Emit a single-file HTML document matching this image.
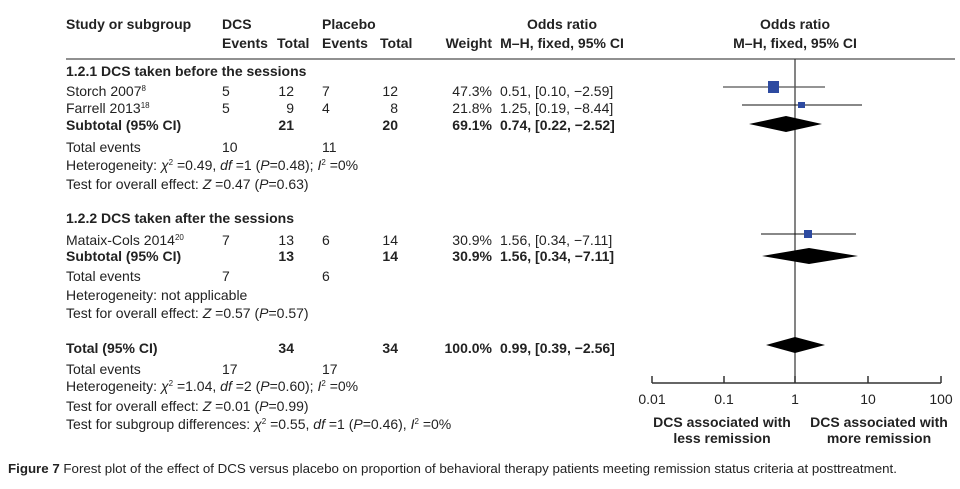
<!DOCTYPE html>
<html><head><meta charset="utf-8"><style>
html,body{margin:0;padding:0;background:#fff;}
svg text{font-family:"Liberation Sans",Arial,sans-serif;font-size:14px;fill:#222;}
.b{font-weight:bold;}
</style></head><body>
<svg width="960" height="484" viewBox="0 0 960 484" xmlns="http://www.w3.org/2000/svg">
<g class="b">
<text x="66" y="29" class="b">Study or subgroup</text>
<text x="222" y="29" class="b">DCS</text>
<text x="322" y="29" class="b">Placebo</text>
<text x="222" y="48" class="b">Events</text>
<text x="277" y="48" class="b">Total</text>
<text x="322" y="48" class="b">Events</text>
<text x="380" y="48" class="b">Total</text>
<text x="492" y="48" text-anchor="end" class="b">Weight</text>
<text x="562" y="29" text-anchor="middle" class="b">Odds ratio</text>
<text x="562" y="48" text-anchor="middle" class="b">M–H, fixed, 95% CI</text>
<text x="795" y="29" text-anchor="middle" class="b">Odds ratio</text>
<text x="795" y="48" text-anchor="middle" class="b">M–H, fixed, 95% CI</text>
</g>
<line x1="66" y1="59" x2="955" y2="59" stroke="#222" stroke-width="1"/>
<text x="66" y="76" class="b">1.2.1 DCS taken before the sessions</text>
<text x="66" y="96">Storch 2007<tspan font-size="8" dy="-5">8</tspan></text>
<text x="222" y="96">5</text><text x="294" y="96" text-anchor="end">12</text>
<text x="322" y="96">7</text><text x="398" y="96" text-anchor="end">12</text>
<text x="492" y="96" text-anchor="end">47.3%</text><text x="500" y="96">0.51, [0.10, −2.59]</text>
<text x="66" y="113">Farrell 2013<tspan font-size="8" dy="-5">18</tspan></text>
<text x="222" y="113">5</text><text x="294" y="113" text-anchor="end">9</text>
<text x="322" y="113">4</text><text x="398" y="113" text-anchor="end">8</text>
<text x="492" y="113" text-anchor="end">21.8%</text><text x="500" y="113">1.25, [0.19, −8.44]</text>
<text x="66" y="130" class="b">Subtotal (95% CI)</text>
<text x="294" y="130" text-anchor="end" class="b">21</text>
<text x="398" y="130" text-anchor="end" class="b">20</text>
<text x="492" y="130" text-anchor="end" class="b">69.1%</text><text x="500" y="130" class="b">0.74, [0.22, −2.52]</text>
<text x="66" y="152">Total events</text><text x="222" y="152">10</text><text x="322" y="152">11</text>
<text x="66" y="170">Heterogeneity: <tspan font-style="italic">χ</tspan><tspan font-size="8" dy="-5">2</tspan><tspan dy="5"> =0.49, </tspan><tspan font-style="italic">df</tspan> =1 (<tspan font-style="italic">P</tspan>=0.48); <tspan font-style="italic">I</tspan><tspan font-size="8" dy="-5">2</tspan><tspan dy="5"> =0%</tspan></text>
<text x="66" y="189">Test for overall effect: <tspan font-style="italic">Z</tspan> =0.47 (<tspan font-style="italic">P</tspan>=0.63)</text>
<text x="66" y="223" class="b">1.2.2 DCS taken after the sessions</text>
<text x="66" y="245">Mataix-Cols 2014<tspan font-size="8" dy="-5">20</tspan></text>
<text x="222" y="245">7</text><text x="294" y="245" text-anchor="end">13</text>
<text x="322" y="245">6</text><text x="398" y="245" text-anchor="end">14</text>
<text x="492" y="245" text-anchor="end">30.9%</text><text x="500" y="245">1.56, [0.34, −7.11]</text>
<text x="66" y="261" class="b">Subtotal (95% CI)</text>
<text x="294" y="261" text-anchor="end" class="b">13</text>
<text x="398" y="261" text-anchor="end" class="b">14</text>
<text x="492" y="261" text-anchor="end" class="b">30.9%</text><text x="500" y="261" class="b">1.56, [0.34, −7.11]</text>
<text x="66" y="281">Total events</text><text x="222" y="281">7</text><text x="322" y="281">6</text>
<text x="66" y="300">Heterogeneity: not applicable</text>
<text x="66" y="318">Test for overall effect: <tspan font-style="italic">Z</tspan> =0.57 (<tspan font-style="italic">P</tspan>=0.57)</text>
<text x="66" y="353" class="b">Total (95% CI)</text>
<text x="294" y="353" text-anchor="end" class="b">34</text>
<text x="398" y="353" text-anchor="end" class="b">34</text>
<text x="492" y="353" text-anchor="end" class="b">100.0%</text><text x="500" y="353" class="b">0.99, [0.39, −2.56]</text>
<text x="66" y="374">Total events</text><text x="222" y="374">17</text><text x="322" y="374">17</text>
<text x="66" y="391">Heterogeneity: <tspan font-style="italic">χ</tspan><tspan font-size="8" dy="-5">2</tspan><tspan dy="5"> =1.04, </tspan><tspan font-style="italic">df</tspan> =2 (<tspan font-style="italic">P</tspan>=0.60); <tspan font-style="italic">I</tspan><tspan font-size="8" dy="-5">2</tspan><tspan dy="5"> =0%</tspan></text>
<text x="66" y="411">Test for overall effect: <tspan font-style="italic">Z</tspan> =0.01 (<tspan font-style="italic">P</tspan>=0.99)</text>
<text x="66" y="429">Test for subgroup differences: <tspan font-style="italic">χ</tspan><tspan font-size="8" dy="-5">2</tspan><tspan dy="5"> =0.55, </tspan><tspan font-style="italic">df</tspan> =1 (<tspan font-style="italic">P</tspan>=0.46), <tspan font-style="italic">I</tspan><tspan font-size="8" dy="-5">2</tspan><tspan dy="5"> =0%</tspan></text>

<line x1="795" y1="59" x2="795" y2="383" stroke="#333" stroke-width="1.2"/>
<line x1="723" y1="87" x2="825" y2="87" stroke="#555" stroke-width="1.2"/>
<rect x="768" y="81" width="11" height="12" fill="#2d4aa0"/>
<line x1="742" y1="105" x2="862" y2="105" stroke="#111" stroke-width="1"/>
<rect x="798" y="102" width="7" height="6" fill="#2d4aa0"/>
<polygon points="749,124 786,116 822,124 786,132" fill="#000"/>
<line x1="761" y1="234" x2="856" y2="234" stroke="#111" stroke-width="1"/>
<rect x="804" y="230" width="8" height="8" fill="#2d4aa0"/>
<polygon points="762,256 809,248 858,256 809,264" fill="#000"/>
<polygon points="766,345 795,337 825,345 795,353" fill="#000"/>
<line x1="652" y1="383" x2="941" y2="383" stroke="#333" stroke-width="1.5"/>
<g stroke="#333" stroke-width="1.5">
<line x1="652" y1="376" x2="652" y2="383"/><line x1="724" y1="376" x2="724" y2="383"/>
<line x1="795" y1="376" x2="795" y2="383"/><line x1="868" y1="376" x2="868" y2="383"/>
<line x1="941" y1="376" x2="941" y2="383"/>
</g>
<text x="652" y="404" text-anchor="middle">0.01</text>
<text x="724" y="404" text-anchor="middle">0.1</text>
<text x="795" y="404" text-anchor="middle">1</text>
<text x="868" y="404" text-anchor="middle">10</text>
<text x="941" y="404" text-anchor="middle">100</text>
<text x="722" y="427" text-anchor="middle" class="b">DCS associated with</text>
<text x="722" y="443" text-anchor="middle" class="b">less remission</text>
<text x="879" y="427" text-anchor="middle" class="b">DCS associated with</text>
<text x="879" y="443" text-anchor="middle" class="b">more remission</text>
<text x="8" y="473" style="font-size:13.3px"><tspan font-weight="bold">Figure 7</tspan> Forest plot of the effect of DCS versus placebo on proportion of behavioral therapy patients meeting remission status criteria at posttreatment.</text>
</svg>
</body></html>
